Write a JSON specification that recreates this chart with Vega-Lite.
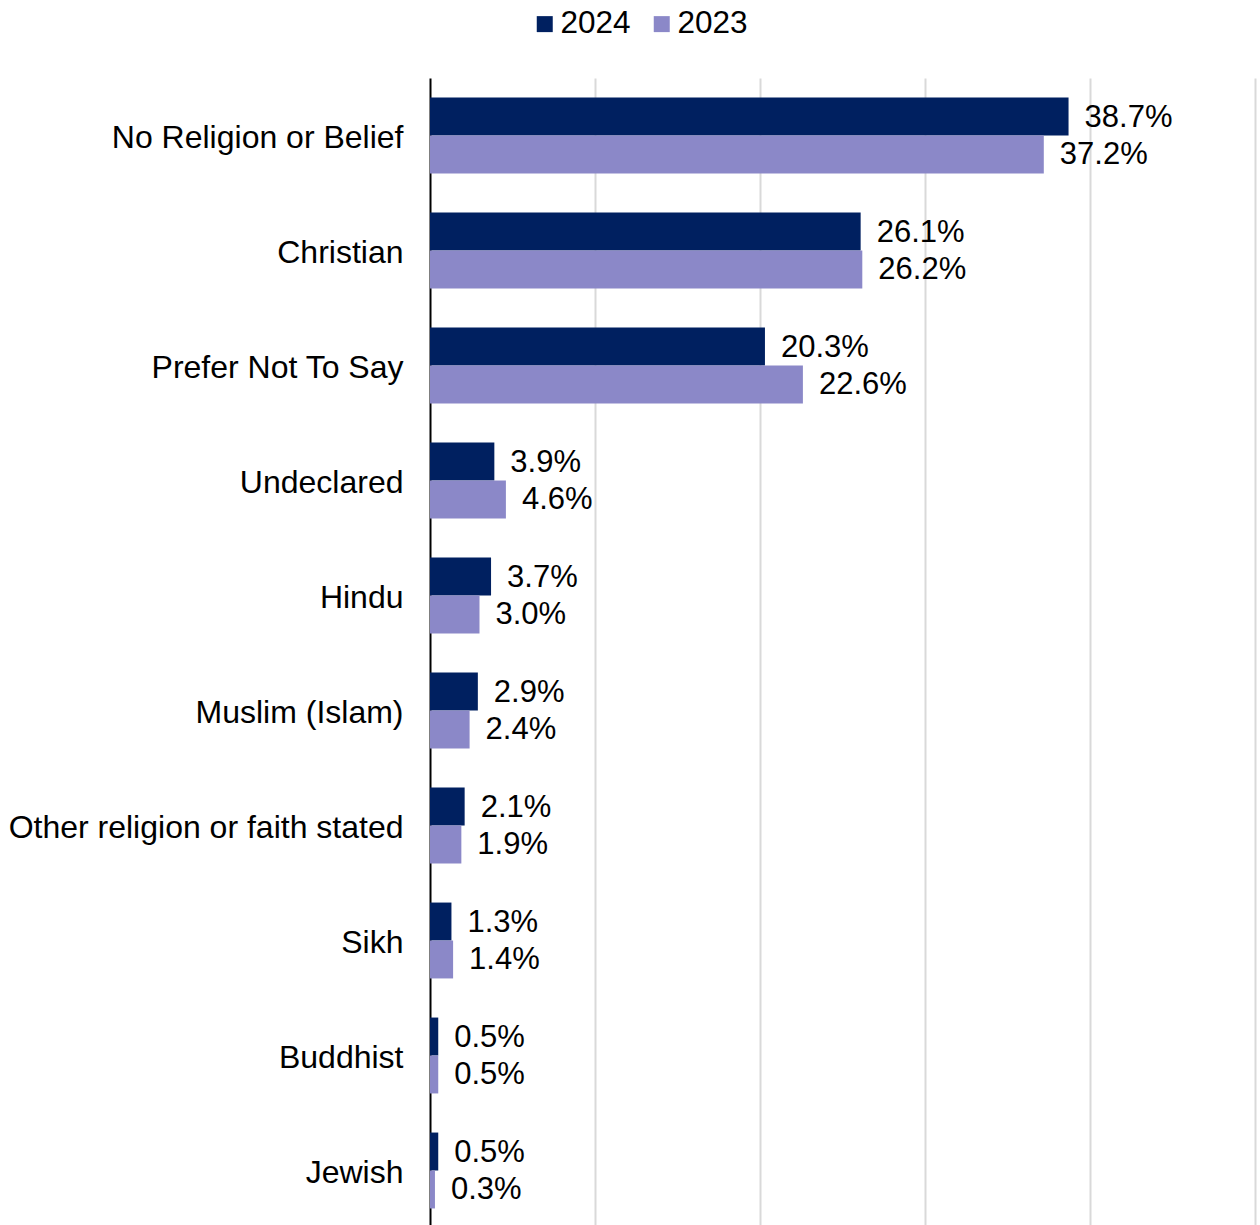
{
  "$schema": "https://vega.github.io/schema/vega-lite/v6.json",
  "width": 825,
  "height": 1150,
  "autosize": {"type": "none"},
  "padding": {"left": 430, "top": 78, "right": 5, "bottom": 0},
  "background": "white",
  "config": {
    "font": "Liberation Sans",
    "view": {"stroke": null}
  },
  "data": {
    "values": [
      {"religion": "No Religion or Belief", "year": "2024", "value": 0.387},
      {"religion": "No Religion or Belief", "year": "2023", "value": 0.372},
      {"religion": "Christian", "year": "2024", "value": 0.261},
      {"religion": "Christian", "year": "2023", "value": 0.262},
      {"religion": "Prefer Not To Say", "year": "2024", "value": 0.203},
      {"religion": "Prefer Not To Say", "year": "2023", "value": 0.226},
      {"religion": "Undeclared", "year": "2024", "value": 0.039},
      {"religion": "Undeclared", "year": "2023", "value": 0.046},
      {"religion": "Hindu", "year": "2024", "value": 0.037},
      {"religion": "Hindu", "year": "2023", "value": 0.030},
      {"religion": "Muslim (Islam)", "year": "2024", "value": 0.029},
      {"religion": "Muslim (Islam)", "year": "2023", "value": 0.024},
      {"religion": "Other religion or faith stated", "year": "2024", "value": 0.021},
      {"religion": "Other religion or faith stated", "year": "2023", "value": 0.019},
      {"religion": "Sikh", "year": "2024", "value": 0.013},
      {"religion": "Sikh", "year": "2023", "value": 0.014},
      {"religion": "Buddhist", "year": "2024", "value": 0.005},
      {"religion": "Buddhist", "year": "2023", "value": 0.005},
      {"religion": "Jewish", "year": "2024", "value": 0.005},
      {"religion": "Jewish", "year": "2023", "value": 0.003}
    ]
  },
  "encoding": {
    "y": {
      "field": "religion",
      "type": "nominal",
      "sort": null,
      "scale": {"paddingInner": 0.34, "paddingOuter": 0.17},
      "axis": {
        "title": null,
        "ticks": false,
        "domainColor": "black",
        "domainWidth": 2,
        "labelFontSize": 32,
        "labelColor": "black",
        "labelPadding": 27,
        "labelOffset": 2,
        "labelLimit": 500,
        "grid": false
      }
    },
    "x": {
      "field": "value",
      "type": "quantitative",
      "scale": {"domain": [0, 0.5], "nice": false},
      "axis": {
        "title": null,
        "labels": false,
        "ticks": false,
        "domain": false,
        "grid": true,
        "gridColor": "#D9D9D9",
        "gridWidth": 2,
        "values": [0.1, 0.2, 0.3, 0.4, 0.5]
      }
    },
    "yOffset": {
      "field": "year",
      "type": "nominal",
      "sort": ["2024", "2023"],
      "scale": {"paddingInner": 0, "paddingOuter": 0}
    }
  },
  "layer": [
    {
      "mark": {"type": "bar"},
      "encoding": {
        "color": {
          "field": "year",
          "type": "nominal",
          "sort": ["2024", "2023"],
          "scale": {"domain": ["2024", "2023"], "range": ["#002060", "#8B88C8"]},
          "legend": {
            "title": null,
            "orient": "none",
            "direction": "horizontal",
            "legendX": 99,
            "legendY": -70,
            "padding": 0,
            "symbolType": "square",
            "symbolSize": 256,
            "symbolStrokeWidth": 0,
            "labelFontSize": 31.5,
            "labelColor": "black",
            "labelOffset": 0,
            "columnPadding": 15
          }
        }
      }
    },
    {
      "mark": {"type": "text", "align": "left", "baseline": "middle", "dx": 16, "dy": 1, "fontSize": 31, "color": "black"},
      "encoding": {
        "text": {"field": "value", "type": "quantitative", "format": ".1%"}
      }
    }
  ]
}
